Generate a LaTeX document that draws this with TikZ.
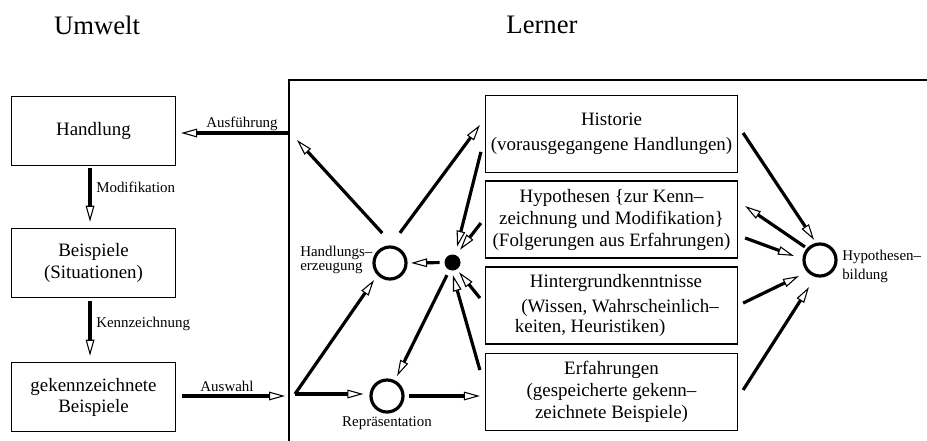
\documentclass[tikz,border=0pt]{standalone}
\usepackage{fontspec}
\setmainfont{Liberation Serif}
\usetikzlibrary{arrows.meta,calc}

\newcommand\myboxfont{\fontsize{14.2}{17}\selectfont}
\newcommand\mylblfont{\fontsize{11.2}{13}\selectfont}
\newcommand\mytitlefont{\fontsize{20}{24}\selectfont}

\tikzset{
  box/.style={draw, line width=0.9pt, inner sep=0pt, align=center, font=\myboxfont},
  lbox/.style={box, minimum width=123pt, minimum height=52pt},
  rbox/.style={box, minimum width=189pt, minimum height=57.75pt},
  ring/.style={circle, draw, line width=2.4pt, minimum size=24pt, inner sep=0pt},
  hub/.style={circle, fill=black, minimum size=12pt, inner sep=0pt},
  flow/.style={line width=2.4pt, -{Triangle[open, length=12pt, width=6.5pt, line width=0.8pt]}},
  lbl/.style={font=\mylblfont, inner sep=0pt},
  title/.style={font=\mytitlefont, inner sep=0pt},
}

\begin{document}
\begin{tikzpicture}[x=0.75pt, y=-0.75pt]
\useasboundingbox (0,0) rectangle (927,440);

% titles
\node[title] (tUmwelt) at (97,25) {Umwelt};
\node[title] (tLerner) at (542,25) {Lerner};

% frame of the learner
\draw[line width=0.9pt] (289,441) -- (289,80) -- (928,80);

% environment column
\node[lbox] (hand) at (93.5,131) {Handlung};
\node[lbox] (beisp) at (93.5,263) {Beispiele\\(Situationen)};
\node[lbox] (gek) at (93.5,397) {gekennzeichnete\\[-1.2pt]Beispiele};

% learner knowledge boxes
\node[rbox] (hist) at (611.5,134) {Historie\\[1.8pt](vorausgegangene Handlungen)};
\node[rbox] (hyp) at (611.5,219.5) {Hypothesen \{zur Kenn–\\[-0.5pt]zeichnung und Modifikation\}\\[-0.5pt](Folgerungen aus Erfahrungen)};
\node[rbox] (hint) at (611.5,305.5) {\hspace*{6.75pt}Hintergrundkenntnisse\\[1.8pt]\hspace*{12.75pt}(Wissen, Wahrscheinlich–\\[-2pt]keiten, Heuristiken)\hspace*{32pt}};
\node[rbox] (erf) at (611.5,392) {Erfahrungen\\(gespeicherte gekenn–\\[-0.5pt]zeichnete Beispiele)};

% process nodes
\node[ring] (he) at (390,263) {};
\node[hub] (dot) at (452.5,262.5) {};
\node[ring] (rep) at (387,396) {};
\node[ring] (hb) at (820,260) {};

\node[lbl, anchor=west] (lHe1) at (300,253) {Handlungs–};
\node[lbl, anchor=west] (lHe2) at (300,268) {erzeugung};
\node[lbl] (lRep) at (387,423) {Repräsentation};
\node[lbl, anchor=west] (lHb1) at (842,257) {Hypothesen–};
\node[lbl, anchor=west] (lHb2) at (842,276) {bildung};

% free ends
\coordinate (ausfStart) at (288,133);
\coordinate (auswEnd) at (285,396);
\coordinate (inp) at (295,394);
\coordinate (act) at (297,140);

% environment arrows
\draw[flow, shorten >=3.75pt] (ausfStart) -- (ausfStart -| hand.east);
\node[lbl] (lAusf) at (242,124) {Ausführung};
\draw[flow, shorten <=1.5pt, shorten >=4.5pt] ([xshift=-2.6pt]hand.south) -- ([xshift=-2.6pt]beisp.north);
\node[lbl, anchor=west] (lMod) at (96,187) {Modifikation};
\draw[flow, shorten <=2.25pt, shorten >=4.5pt] ([xshift=-2.6pt]beisp.south) -- ([xshift=-2.6pt]gek.north);
\node[lbl, anchor=west] (lKenn) at (96,324) {Kennzeichnung};
\draw[flow, shorten <=4.5pt] (gek.east |- auswEnd) -- (auswEnd);
\node[lbl] (lAusw) at (227,386) {Auswahl};

% learner arrows
\draw[flow, shorten >=4.4pt] (inp) -- (he.224);
\draw[flow, shorten >=4.5pt] (inp) -- (inp -| rep.west);
\draw[flow, shorten <=13pt] (he.77) -- (act);
\draw[flow, shorten <=11.7pt, shorten >=6.3pt] (he.88) -- ([yshift=11.8pt]hist.west);
\draw[flow, shorten <=12.2pt, shorten >=6.1pt] ([yshift=-1.6pt]hist.west) -- (dot.72);
\draw[flow, shorten <=4.9pt, shorten >=5pt] ([yshift=1.2pt]hyp.west) -- (dot.65);
\draw[flow, shorten <=3.4pt, shorten >=2.6pt] (dot.west) -- (he.east);
\draw[flow, shorten <=5.9pt, shorten >=2.6pt] ([yshift=1pt]hint.west) -- (dot.302);
\draw[flow, shorten <=13.7pt, shorten >=3.5pt] ([yshift=3.3pt]erf.west) -- (dot.264);
\draw[flow, shorten <=4.2pt, shorten >=3.6pt] (dot.248) -- (rep.63);
\draw[flow, shorten <=3.4pt, shorten >=3.75pt] (rep.east) -- (rep.east -| erf.west);

% hypothesis formation
\draw[flow, shorten <=6.75pt, shorten >=2.7pt] ([yshift=6.4pt]hist.east) -- (hb.103);
\draw[flow, shorten <=1.8pt, shorten >=6.4pt] (hb.138) -- ([yshift=13.7pt]hyp.east);
\draw[flow, shorten <=5.6pt, shorten >=6.8pt] ([yshift=-11.9pt]hyp.east) -- (hb.177);
\draw[flow, shorten <=4.2pt, shorten >=6.9pt] (hint.east) -- (hb.223);
\draw[flow, shorten <=7pt, shorten >=9pt] ([yshift=-4.35pt]erf.east) -- (hb.255);
\end{tikzpicture}
\end{document}
